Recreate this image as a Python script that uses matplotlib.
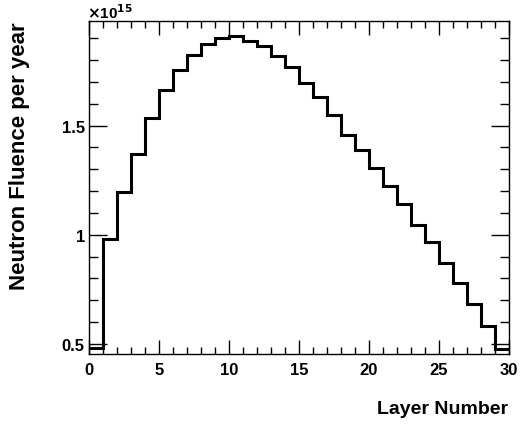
import numpy as np
import matplotlib
matplotlib.use("Agg")
import matplotlib.pyplot as plt
from matplotlib.ticker import MultipleLocator, FixedLocator

# layer index edges and fluence per layer (units of 1e15)
edges = np.arange(0, 31)
fluence = [0.48, 0.98, 1.198, 1.368, 1.535, 1.665, 1.757, 1.825, 1.875, 1.903,
           1.912, 1.890, 1.864, 1.821, 1.770, 1.697, 1.629, 1.549, 1.457, 1.387,
           1.304, 1.224, 1.142, 1.046, 0.965, 0.870, 0.778, 0.680, 0.582, 0.476]

plt.rcParams["font.family"] = ["Liberation Sans", "DejaVu Sans"]
plt.rcParams["font.weight"] = "bold"

fig = plt.figure(figsize=(5.2, 4.27), dpi=100, facecolor="white")
ax = fig.add_axes([89 / 520, 72 / 427, 420 / 520, 333.5 / 427])

ax.stairs(fluence, edges, color="black", linewidth=2.2, baseline=None)

ax.set_xlim(0, 30)
ax.set_ylim(0.453, 1.982)

ax.xaxis.set_major_locator(MultipleLocator(5))
ax.xaxis.set_minor_locator(MultipleLocator(1))
ax.yaxis.set_major_locator(FixedLocator([0.5, 1.0, 1.5]))
ax.yaxis.set_minor_locator(MultipleLocator(0.1))
ax.set_yticklabels(["0.5", "1", "1.5"])

ax.tick_params(which="both", direction="in", top=True, right=True, width=1, colors="black")
ax.tick_params(which="major", axis="x", length=10)
ax.tick_params(which="minor", axis="x", length=5)
ax.tick_params(which="major", axis="y", length=13)
ax.tick_params(which="minor", axis="y", length=6.5)
ax.tick_params(axis="x", labelsize=12, pad=6)
ax.tick_params(axis="y", labelsize=12, pad=3)
for lab in ax.get_xticklabels() + ax.get_yticklabels():
    lab.set_fontweight("bold")
for sp in ax.spines.values():
    sp.set_linewidth(1)

fig.text(508 / 520, 1 - 410 / 427, "Layer Number", ha="right", va="center",
         fontsize=14, fontweight="bold")
fig.text(20 / 520, 1 - 22 / 427, "Neutron Fluence per year", ha="center", va="top",
         rotation=90, fontsize=16, fontweight="bold")
fig.text(87 / 520, 1 - 13 / 427, r"$\times$10$^{15}$", ha="left", va="center",
         fontsize=11, fontweight="bold")

fig.savefig("out.png", dpi=100, facecolor="white")
